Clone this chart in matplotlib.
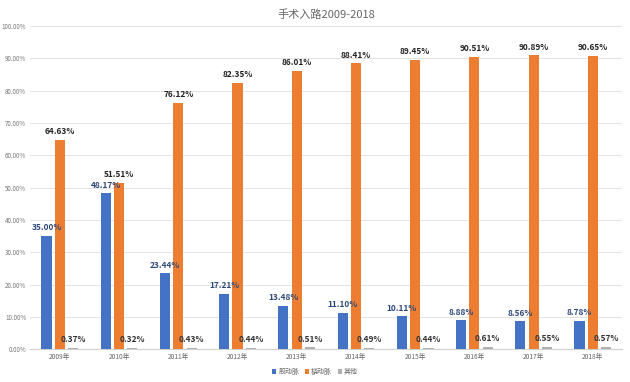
import matplotlib
matplotlib.use("Agg")
import matplotlib.pyplot as plt
import numpy as np

plt.rcParams['font.family'] = ['Noto Sans CJK SC', 'DejaVu Sans']

years = ['2009年', '2010年', '2011年', '2012年', '2013年', '2014年', '2015年', '2016年', '2017年', '2018年']
femoral = [35.00, 48.17, 23.44, 17.21, 13.48, 11.10, 10.11, 8.88, 8.56, 8.78]
radial = [64.63, 51.51, 76.12, 82.35, 86.01, 88.41, 89.45, 90.51, 90.89, 90.65]
other = [0.37, 0.32, 0.43, 0.44, 0.51, 0.49, 0.44, 0.61, 0.55, 0.57]
names = ['股动脉', '桡动脉', '其他']

fig = plt.figure(figsize=(6.3, 3.82), dpi=100)
ax = fig.add_axes([0.048, 0.086, 0.94, 0.846])

x = np.arange(len(years))
w = 0.17
gap = 0.225
ax.bar(x - gap, femoral, w, color='#4472C4', label=names[0], zorder=3)
ax.bar(x, radial, w, color='#ED7D31', label=names[1], zorder=3)
ax.bar(x + gap, other, w, color='#B0B0B0', label=names[2], zorder=3)

for i in range(len(years)):
    ax.text(x[i] - gap, femoral[i] + 1.2, f'{femoral[i]:.2f}%', ha='center', va='bottom',
            fontsize=6, fontweight='bold', color='#2F4A7A')
    ax.text(x[i], radial[i] + 1.2, f'{radial[i]:.2f}%', ha='center', va='bottom',
            fontsize=6, fontweight='bold', color='#222222')
    ax.text(x[i] + gap, other[i] + 1.2, f'{other[i]:.2f}%', ha='center', va='bottom',
            fontsize=6, fontweight='bold', color='#333333')

ax.set_xlim(-0.5, len(years) - 0.5)
ax.set_ylim(0, 100)
ax.set_yticks(np.arange(0, 101, 10))
ax.set_yticklabels([f'{v:.2f}%' for v in np.arange(0, 101, 10)], fontsize=4.5, color='#777777')
ax.set_xticks(x)
ax.set_xticklabels(years, fontsize=4.8, color='#666666')
ax.tick_params(length=0, pad=3)
ax.grid(axis='y', color='#E3E3E3', linewidth=0.7, zorder=0)
for s in ['top', 'right', 'left']:
    ax.spines[s].set_visible(False)
ax.spines['bottom'].set_color('#D0D0D0')

ax.set_title('手术入路2009-2018', fontsize=8, color='#666666', pad=6)
fig.legend(loc='lower center', bbox_to_anchor=(0.5, 0.0), ncol=3, frameon=False,
           fontsize=5, handlelength=0.6, handleheight=0.6, handletextpad=0.3,
           columnspacing=0.8, labelcolor='#666666')

fig.savefig('out.png', dpi=100)
